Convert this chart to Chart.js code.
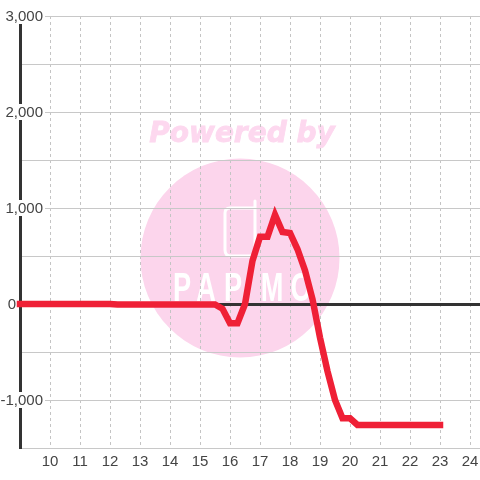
<!DOCTYPE html>
<html>
<head>
<meta charset="utf-8">
<script src="https://cdn.jsdelivr.net/npm/chart.js@4"></script>
<style>
  html, body { margin: 0; padding: 0; background: #fff; }
  #box { position: relative; width: 480px; height: 480px; }
</style>
</head>
<body>
<div id="box"><canvas id="myChart" width="480" height="480"></canvas></div>
<script>
var hours = [9, 9.25, 9.5, 9.75, 10, 10.25, 10.5, 10.75, 11, 11.25, 11.5, 11.75, 12, 12.25, 12.5, 12.75,
  13, 13.25, 13.5, 13.75, 14, 14.25, 14.5, 14.75, 15, 15.25, 15.5, 15.75, 16, 16.25, 16.5, 16.75,
  17, 17.25, 17.5, 17.75, 18, 18.25, 18.5, 18.75, 19, 19.25, 19.5, 19.75, 20, 20.25, 20.5, 20.75,
  21, 21.25, 21.5, 21.75, 22, 22.25, 22.5, 22.75, 23];
var values = [0, 0, 0, 0, 0, 0, 0, 0, 0, 0, 0, 0, 0, -5, -5, -5,
  -5, -5, -5, -5, -5, -5, -5, -5, -5, -5, -5, -50, -200, -200, 0, 450,
  700, 700, 930, 750, 740, 570, 350, 50, -350, -700, -1000, -1190, -1190, -1260, -1260, -1260,
  -1260, -1260, -1260, -1260, -1260, -1260, -1260, -1260, -1260];
var yTickLabels = [3000, 2000, 1000, 0, -1000];
var yMinorTicks = [2500, 1500, 500, -500, -1500];
var xTickLabels = [10, 11, 12, 13, 14, 15, 16, 17, 18, 19, 20, 21, 22, 23, 24];

// pink watermark behind the grid
var watermark = {
  id: "watermark",
  beforeDraw: function (chart) {
    var c = chart.ctx;
    c.save();
    c.fillStyle = "#fcd5ec";
    c.beginPath();
    c.arc(240, 258, 99.5, 0, Math.PI * 2);
    c.fill();
    c.fillStyle = "#fdd8ef";
    c.strokeStyle = "#fdd8ef";
    c.lineWidth = 0.8;
    c.font = "italic bold 28px 'DejaVu Sans'";
    c.textAlign = "center";
    c.textBaseline = "middle";
    c.fillText("Powered by", 242, 135);
    c.strokeText("Powered by", 242, 135);
    // logo outline
    c.strokeStyle = "#fff";
    c.lineWidth = 3;
    c.lineCap = "round";
    c.lineJoin = "round";
    c.beginPath();
    c.moveTo(255, 201);
    c.lineTo(255, 251);
    c.quadraticCurveTo(255, 256, 250, 256);
    c.lineTo(231, 256);
    c.quadraticCurveTo(225, 256, 225, 250);
    c.lineTo(225, 213);
    c.quadraticCurveTo(225, 208, 230, 208);
    c.lineTo(255, 208);
    c.stroke();
    c.fillStyle = "#fff";
    c.font = "bold 40px 'Liberation Sans'";
    var letters = ["P", "A", "P", "M", "O"];
    var letterX = [182, 206, 233, 272, 301];
    letters.forEach(function (s, i) {
      c.save();
      c.translate(letterX[i], 290);
      c.scale(0.68, 1);
      c.fillText(s, 0, 0);
      c.restore();
    });
    c.restore();
  },
  // y labels sit over the axis line on a white box, so they are placed by hand from the scale
  beforeDatasetsDraw: function (chart) {
    var c = chart.ctx, y = chart.scales.y;
    c.save();
    c.font = "15px 'Liberation Sans'";
    c.textAlign = "right";
    c.textBaseline = "middle";
    yTickLabels.forEach(function (v) {
      var py = y.getPixelForValue(v);
      var right = v === 0 ? 16 : 43;
      var s = v.toLocaleString("en-US");
      if (v !== 0) {
        c.fillStyle = "#fff";
        c.fillRect(0, py - 8, right + 2, 16);
      }
      c.fillStyle = "#444";
      c.fillText(s, right, py + 1);
    });
    c.restore();
  }
};

new Chart("myChart", {
  type: "line",
  data: {
    datasets: [{
      data: hours.map(function (h, i) { return {x: h, y: values[i]}; }),
      borderColor: "#ef2036",
      borderWidth: 6.5,
      borderCapStyle: "square",
      borderJoinStyle: "miter",
      pointRadius: 0,
      tension: 0,
      clip: false
    }]
  },
  options: {
    responsive: false,
    animation: false,
    events: [],
    layout: {padding: {top: 16, right: 0, bottom: 0, left: 0}},
    plugins: {legend: {display: false}, tooltip: {enabled: false}},
    scales: {
      x: {
        type: "linear",
        min: 9,
        max: 24.3333,
        afterBuildTicks: function (axis) {
          axis.ticks = [{value: 9}].concat(xTickLabels.map(function (v) { return {value: v}; }));
        },
        afterFit: function (axis) {
          axis.height = 32;
          axis.paddingLeft = 0;
          axis.paddingRight = 0;
        },
        grid: {
          color: "#c4c4c4",
          lineWidth: 1,
          tickLength: 0,
          drawTicks: false
        },
        border: {color: "#c8c8c8", width: 1, dash: [3, 3]},
        ticks: {
          autoSkip: false,
          maxRotation: 0,
          padding: 5,
          color: "#444",
          font: {family: "'Liberation Sans'", size: 15},
          callback: function (v) { return v === 9 ? "" : v; }
        }
      },
      y: {
        min: -1500,
        max: 3000,
        afterBuildTicks: function (axis) {
          axis.ticks = yTickLabels.concat(yMinorTicks).map(function (v) { return {value: v}; });
        },
        afterFit: function (axis) { axis.width = 20; },
        grid: {
          color: function (ctx) { return ctx.tick && ctx.tick.value === 0 ? "#333" : "#c8c8c8"; },
          lineWidth: function (ctx) { return ctx.tick && ctx.tick.value === 0 ? 3 : 1; },
          drawTicks: false,
          tickLength: 0
        },
        border: {color: "#333", width: 3},
        ticks: {display: false}
      }
    }
  },
  plugins: [watermark]
});
</script>
</body>
</html>
